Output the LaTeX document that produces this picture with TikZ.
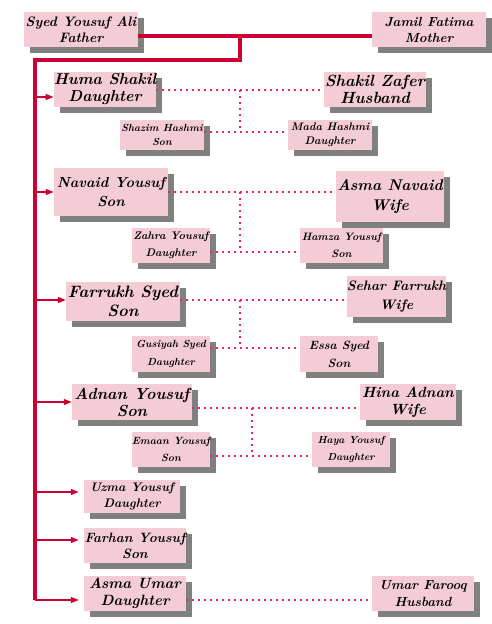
\documentclass[tikz,border=0pt]{standalone}
\usetikzlibrary{arrows.meta,shadows}
\definecolor{boxpink}{HTML}{F4CCD6}
\definecolor{trunkred}{HTML}{CC0033}
\definecolor{dotred}{HTML}{F0245A}
\definecolor{shadegray}{HTML}{808080}
\tikzset{
  pbox/.style={fill=boxpink, draw=none, align=center, inner sep=0pt, text=black,
    drop shadow={shadow xshift=6pt, shadow yshift=-6pt, fill=shadegray, opacity=1}},
  fs/.style 2 args={font=\fontsize{#1}{#2}\selectfont\bfseries\itshape},
  trunk/.style={draw=trunkred, line width=4pt, line join=miter},
  arr/.style={draw=trunkred, line width=1.3pt, -{Triangle[length=8pt,width=6pt]}},
  dots/.style={draw=dotred, line width=2pt, dash pattern=on 2pt off 4pt},
}
\begin{document}
\begin{tikzpicture}[x=1pt,y=-1pt]
\useasboundingbox (0,0) rectangle (492,624);
% parents
\node[pbox, minimum width=114pt, minimum height=35pt, fs={13.7}{16}] (father) at (81,29.5) {Syed Yousuf Ali\\Father};
\node[pbox, minimum width=114pt, minimum height=35pt, fs={13.2}{16}] (mother) at (429,29.5) {Jamil Fatima\\Mother};
% family 1
\node[pbox, minimum width=102pt, minimum height=35pt, fs={15.8}{17}] (huma) at (105,89.5) {Huma Shakil\\Daughter};
\node[pbox, minimum width=102pt, minimum height=35pt, fs={16.2}{17}] (shakil) at (375,89.5) {Shakil Zafer\\Husband};
\node[pbox, minimum width=84pt, minimum height=30pt, fs={10.3}{14}] (shazim) at (162,135) {Shazim Hashmi\\Son};
\node[pbox, minimum width=84pt, minimum height=30pt, fs={11}{14}] (mada) at (330,135) {Mada Hashmi\\Daughter};
% family 2
\node[pbox, minimum width=114pt, minimum height=48pt, fs={14.5}{19}] (navaid) at (111,192) {Navaid Yousuf\\Son};
\node[pbox, minimum width=108pt, minimum height=51pt, fs={15.5}{20}] (asman) at (390,196.5) {Asma Navaid\\Wife};
\node[pbox, minimum width=78pt, minimum height=35pt, fs={11}{17}] (zahra) at (171,245.5) {Zahra Yousuf\\Daughter};
\node[pbox, minimum width=83pt, minimum height=35pt, fs={10.7}{17}] (hamza) at (341.5,245.5) {Hamza Yousuf\\Son};
% family 3
\node[pbox, minimum width=114pt, minimum height=39pt, fs={16.5}{19}] (farrukh) at (123,301.5) {Farrukh Syed\\Son};
\node[pbox, minimum width=97pt, minimum height=41pt, fs={13.7}{19}] (sehar) at (396.5,296.5) {Sehar Farrukh\\Wife};
\node[pbox, minimum width=78pt, minimum height=36pt, fs={10.3}{18}] (gusiyah) at (171,354) {Gusiyah Syed\\Daughter};
\node[pbox, minimum width=78pt, minimum height=36pt, fs={12}{18}] (essa) at (339,354) {Essa Syed\\Son};
% family 4
\node[pbox, minimum width=120pt, minimum height=36pt, fs={16}{17}] (adnan) at (132,402) {Adnan Yousuf\\Son};
\node[pbox, minimum width=96pt, minimum height=36pt, fs={14.8}{17}] (hina) at (408,402) {Hina Adnan\\Wife};
\node[pbox, minimum width=78pt, minimum height=35pt, fs={10.5}{17}] (emaan) at (171,449.5) {Emaan Yousuf\\Son};
\node[pbox, minimum width=78pt, minimum height=35pt, fs={10.2}{17}] (haya) at (351,449.5) {Haya Yousuf\\Daughter};
% singles
\node[pbox, minimum width=96pt, minimum height=33pt, fs={12.4}{16}] (uzma) at (132,496.5) {Uzma Yousuf\\Daughter};
\node[pbox, minimum width=102pt, minimum height=35pt, fs={13.5}{16}] (farhan) at (135,545.5) {Farhan Yousuf\\Son};
\node[pbox, minimum width=102pt, minimum height=35pt, fs={14.9}{17}] (asmau) at (135,593.5) {Asma Umar\\Daughter};
\node[pbox, minimum width=102pt, minimum height=35pt, fs={13.2}{17}] (umar) at (423,593.5) {Umar Farooq\\Husband};
% trunk
\coordinate (j1) at (240,36);
\coordinate (j2) at (240,60);
\coordinate (t0) at (35,60);
\coordinate (tend) at (35,600);
\draw[trunk] (father.east |- j1) -- (mother.west |- j1);
\draw[trunk] (j1) -- (j2) -- (t0) -- (tend);
% arrows to children
\draw[arr] (t0 |- 0,97) -- (huma.west |- 0,97);
\draw[arr] (t0 |- navaid.west) -- (navaid.west);
\draw[arr] (t0 |- 0,300) -- (farrukh.west |- 0,300);
\draw[arr] (t0 |- adnan.west) -- (adnan.west);
\draw[arr] (t0 |- 0,492) -- ([xshift=-5pt]uzma.west |- 0,492);
\draw[arr] (t0 |- 0,540) -- ([xshift=-5pt]farhan.west |- 0,540);
\draw[arr] (t0 |- 0,600) -- ([xshift=-5pt]asmau.west |- 0,600);
% family 1 dots
\coordinate (m1) at (240,90);
\coordinate (k1) at (240,132);
\draw[dots] (huma.east |- m1) -- (shakil.west |- m1);
\draw[dots] (m1) -- (k1);
\draw[dots] (shazim.east |- k1) -- (mada.west |- k1);
% family 2 dots
\coordinate (m2) at (240,192);
\coordinate (k2) at (240,252);
\draw[dots] (navaid.east |- m2) -- (asman.west |- m2);
\draw[dots] (m2) -- (k2);
\draw[dots] (zahra.east |- k2) -- (hamza.west |- k2);
% family 3 dots
\coordinate (m3) at (240,300);
\coordinate (k3) at (240,348);
\draw[dots] (farrukh.east |- m3) -- (sehar.west |- m3);
\draw[dots] (m3) -- (k3);
\draw[dots] (gusiyah.east |- k3) -- (essa.west |- k3);
% family 4 dots
\coordinate (m4) at (252,408);
\coordinate (k4) at (252,456);
\draw[dots] (adnan.east |- m4) -- (hina.west |- m4);
\draw[dots] (m4) -- (k4);
\draw[dots] (emaan.east |- k4) -- (haya.west |- k4);
% family 5 dots
\coordinate (m5) at (280,600);
\draw[dots] (asmau.east |- m5) -- (umar.west |- m5);
\end{tikzpicture}
\end{document}
